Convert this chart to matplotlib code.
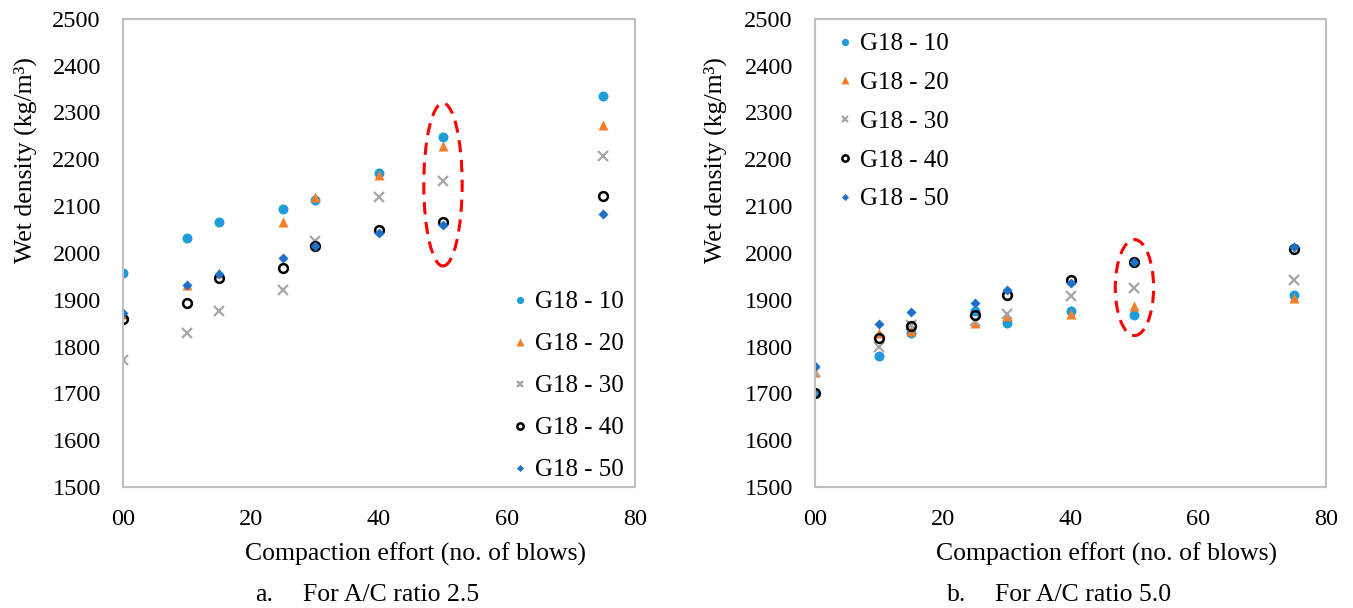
import matplotlib
matplotlib.use("Agg")
import matplotlib.pyplot as plt
from matplotlib.patches import Ellipse

plt.rcParams['font.family'] = ['Liberation Serif', 'DejaVu Serif']

blows = [0, 10, 15, 25, 30, 40, 50, 75]
series_names = ["G18 - 10", "G18 - 20", "G18 - 30", "G18 - 40", "G18 - 50"]

# A/C ratio 2.5
ac25_g10 = [1957, 2032, 2066, 2094, 2112, 2170, 2248, 2335]
ac25_g20 = [1870, 1932, 1957, 2066, 2120, 2167, 2229, 2274]
ac25_g30 = [1771, 1830, 1875, 1921, 2025, 2120, 2154, 2208]
ac25_g40 = [1859, 1893, 1947, 1968, 2015, 2049, 2066, 2121]
ac25_g50 = [1872, 1932, 1955, 1989, 2015, 2043, 2060, 2083]

# A/C ratio 5.0
ac50_g10 = [1700, 1780, 1828, 1875, 1850, 1875, 1867, 1910]
ac50_g20 = [1745, 1830, 1833, 1850, 1865, 1870, 1887, 1903]
ac50_g30 = [1745, 1800, 1845, 1855, 1870, 1907, 1925, 1943]
ac50_g40 = [1700, 1818, 1843, 1868, 1910, 1942, 1980, 2008]
ac50_g50 = [1759, 1848, 1874, 1893, 1921, 1935, 1980, 2012]

x_ticks = [0, 20, 40, 60, 80]
x_tick_labels = ["00", "20", "40", "60", "80"]
y_ticks = list(range(1500, 2501, 100))

styles = [
    dict(marker="o", color="#1F9BD8", ms=7.2, mec="none"),
    dict(marker="^", color="#F47E2A", ms=7.5, mec="none"),
    dict(marker="x", color="#A6A6A6", ms=6.5, mew=1.6),
    dict(marker="o", color="black", ms=6.3, mfc="none", mew=1.8),
    dict(marker="D", color="#1F70C8", ms=5.0, mec="none"),
]

fig = plt.figure(figsize=(13.53, 6.08), dpi=100)
ax_a = fig.add_axes([0.0909, 0.199, 0.3784, 0.770])
ax_b = fig.add_axes([0.6024, 0.199, 0.3777, 0.770])

TEXT_SIZE = 18.5


def draw(ax, data, legend_kw, ellipse):
    for name, vals, st in zip(series_names, data, styles):
        ax.plot(blows, vals, linestyle="none", label=name, **st)
    ax.set_xlim(0, 80)
    ax.set_ylim(1500, 2500)
    ax.set_xticks(x_ticks)
    ax.set_xticklabels(x_tick_labels)
    ax.set_yticks(y_ticks)
    ax.tick_params(length=0, labelsize=17.5, pad=16)
    ax.tick_params(axis="x", pad=16)
    for sp in ax.spines.values():
        sp.set_color("#BFBFBF")
        sp.set_linewidth(1.5)
    ax.add_patch(Ellipse(ellipse[0], ellipse[1], ellipse[2], fill=False,
                         edgecolor="#FF0000", linestyle=(0, (4, 2.5)), linewidth=2.2,
                         clip_on=False))
    ax.legend(frameon=False, fontsize=18, handletextpad=0.1,
              borderpad=0, borderaxespad=0, handlelength=1.0, markerscale=0.72,
              **legend_kw)


draw(ax_a, [ac25_g10, ac25_g20, ac25_g30, ac25_g40, ac25_g50],
     dict(loc="lower right", bbox_to_anchor=(0.978, 0.012), labelspacing=0.78),
     ((50, 2146), 6.0, 348))
draw(ax_b, [ac50_g10, ac50_g20, ac50_g30, ac50_g40, ac50_g50],
     dict(loc="upper left", bbox_to_anchor=(0.035, 0.970), labelspacing=0.65),
     ((50, 1926), 6.0, 205))

# axis titles and panel captions
for x_ylab, x_xlab, x_cap, tag, caption in [
        (0.019, 0.307, 0.1885, "a.", "For A/C ratio 2.5"),
        (0.529, 0.818, 0.700, "b.", "For A/C ratio 5.0")]:
    fig.text(x_ylab, 0.737, "Wet density (kg/m³)", rotation=90,
             ha="center", va="center", fontsize=TEXT_SIZE)
    fig.text(x_xlab, 0.089, "Compaction effort (no. of blows)",
             ha="center", va="center", fontsize=TEXT_SIZE)
    fig.text(x_cap, 0.022, tag, ha="left", va="center", fontsize=TEXT_SIZE)
    fig.text(x_cap + 0.0355, 0.022, caption, ha="left", va="center", fontsize=TEXT_SIZE)

fig.savefig("out.png", dpi=100)
